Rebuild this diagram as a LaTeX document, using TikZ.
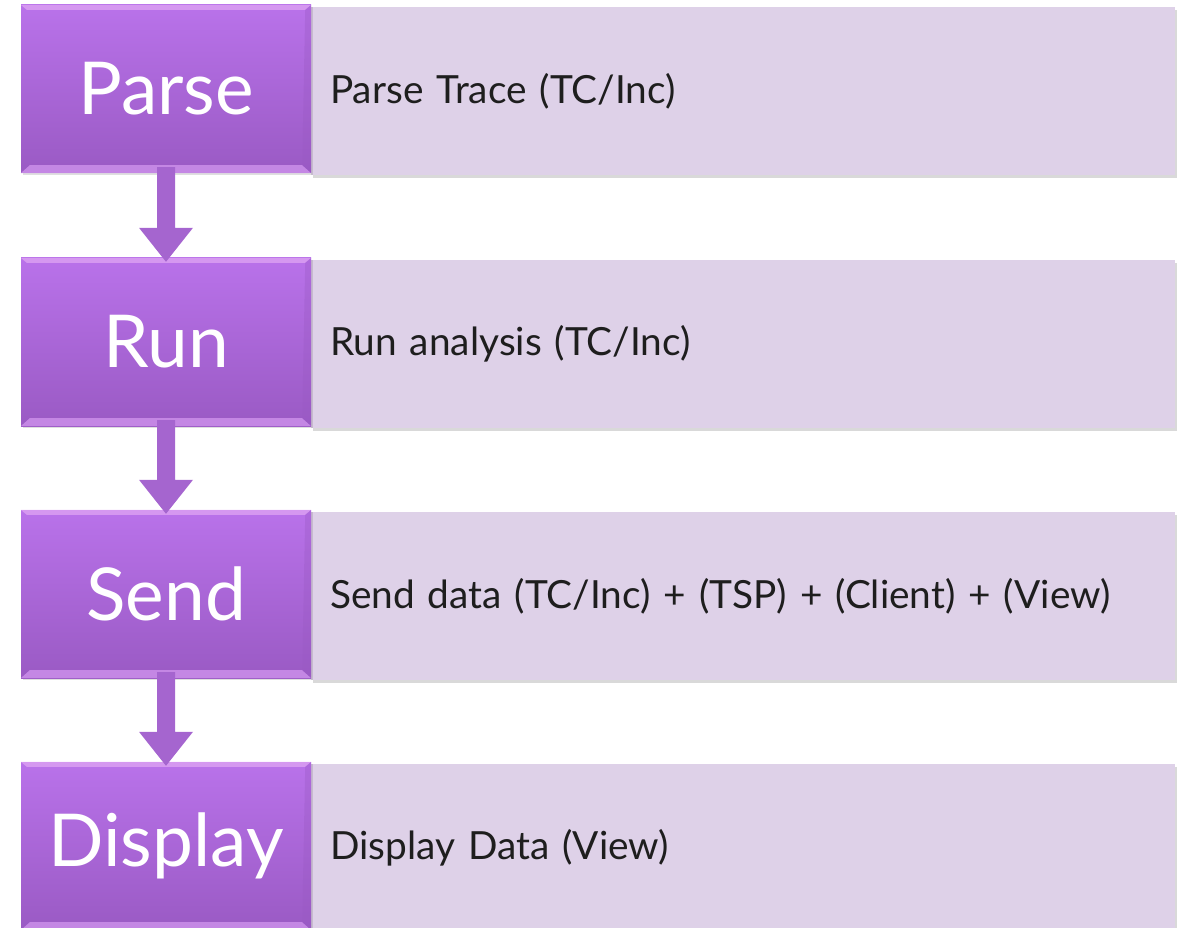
\documentclass[tikz,border=0pt]{standalone}
\usepackage{fontspec}
\setmainfont{Lato}
\usetikzlibrary{shadows,calc}
\definecolor{stepTop}{HTML}{B972EA}
\definecolor{stepBot}{HTML}{9A5AC4}
\definecolor{bevelHi}{HTML}{DDA2F2}
\definecolor{bevelLo}{HTML}{C98CE8}
\definecolor{descFill}{HTML}{DED1E8}
\definecolor{descText}{HTML}{1E1E1E}
\definecolor{arrowFill}{HTML}{A565CF}
\tikzset{
  x=1pt, y=-1pt,
  stepbox/.style={minimum width=290pt, minimum height=168pt, inner sep=0pt,
    top color=stepTop, bottom color=stepBot, text=white,
    drop shadow={opacity=0.25, shadow xshift=2pt, shadow yshift=-2pt}},
  steplabel/.style={text=white, font=\fontsize{73}{80}\selectfont},
  descbox/.style={minimum width=864pt, minimum height=168pt, inner sep=0pt,
    fill=descFill, text=descText, anchor=west, text width=864pt, align=left,
    font=\fontsize{38.8}{44}\selectfont,
    drop shadow={opacity=0.3, shadow xshift=2pt, shadow yshift=-3pt}},
  flowarrow/.style={fill=arrowFill, draw=none},
}
\begin{document}
\begin{tikzpicture}
\useasboundingbox (0,0) rectangle (1181,928);
\foreach \name/\txt/\desc/\y in {
  p/Parse/{Parse Trace (TC/Inc)}/89,
  r/Run/{Run analysis (TC/Inc)}/342,
  s/Send/{Send data (TC/Inc) + (TSP) + (Client) + (View)}/594,
  d/Display/{Display Data (View)}/846}{
  \node[descbox] (\name desc) at (311,\y+2) {\hspace*{19pt}\desc};
  \node[stepbox] (\name) at (166,\y) {};
  % bevel strips along the top and bottom edges
  \fill[bevelHi, opacity=0.8] (\name.north west) -- (\name.north east)
     -- ($(\name.north east)+(-6,5)$) -- ($(\name.north west)+(6,5)$) -- cycle;
  \fill[bevelLo, opacity=0.9] (\name.south west) -- (\name.south east)
     -- ($(\name.south east)+(-9,-8)$) -- ($(\name.south west)+(9,-8)$) -- cycle;
  \fill[stepBot, opacity=0.35] (\name.north east) -- ($(\name.north east)+(-6,5)$)
     -- ($(\name.south east)+(-9,-8)$) -- (\name.south east) -- cycle;
  \node[steplabel] (\name label) at (\name) {\txt};
}
\foreach \a/\b in {p/r, r/s, s/d}{
  \fill[flowarrow] ($(\a.south)+(-9,-6)$) -- ($(\a.south)+(9,-6)$)
    -- ($(\b.north)+(9,-30)$) -- ($(\b.north)+(27,-30)$) -- ($(\b.north)+(0,4)$)
    -- ($(\b.north)+(-27,-30)$) -- ($(\b.north)+(-9,-30)$) -- cycle;
}
\end{tikzpicture}
\end{document}
